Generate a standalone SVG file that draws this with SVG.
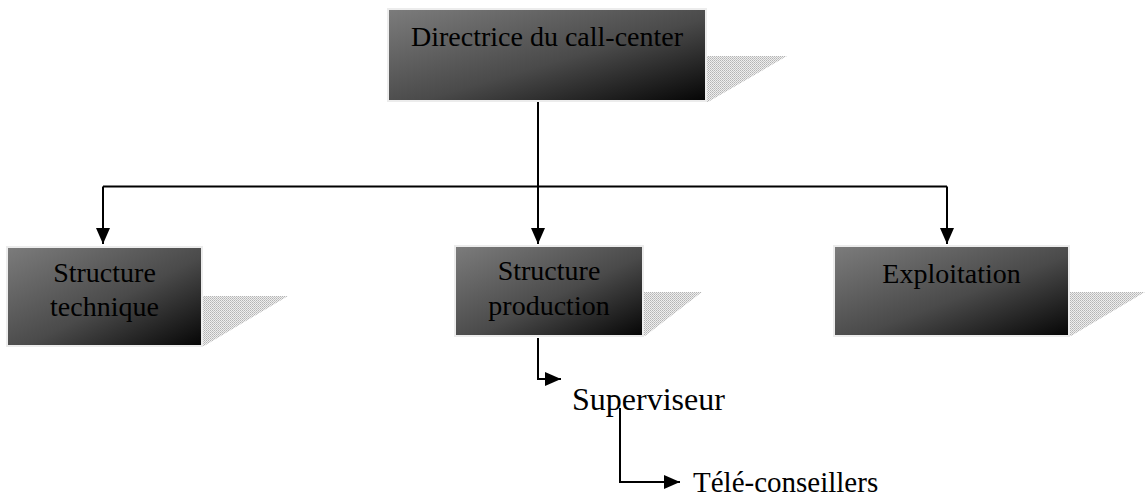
<svg xmlns="http://www.w3.org/2000/svg" width="1146" height="497" viewBox="0 0 1146 497">
  <style>
    .box { fill: url(#boxFill); stroke: #ececec; stroke-width: 2; }
    .shadow { fill: url(#dots); }
    .label { font-family: "Liberation Serif", "Times New Roman", serif; font-size: 28px; fill: #000; text-anchor: middle; }
    .plain { font-family: "Liberation Serif", "Times New Roman", serif; fill: #000; }
    .wire { fill: none; stroke: #000; stroke-width: 2; }
  </style>
  <defs>
    <linearGradient id="boxFill" x1="0" y1="0" x2="1" y2="1">
      <stop offset="0" stop-color="#7c7c7c"/>
      <stop offset="0.55" stop-color="#4a4a4a"/>
      <stop offset="1" stop-color="#050505"/>
    </linearGradient>
    <pattern id="dots" width="2" height="2" patternUnits="userSpaceOnUse">
      <rect width="2" height="2" fill="#eeeeee"/>
      <rect width="1" height="1" fill="#b4b4b4"/>
      <rect x="1" y="1" width="1" height="1" fill="#c4c4c4"/>
    </pattern>
    <marker id="arrow" viewBox="0 0 16 14" refX="16" refY="7" markerWidth="16" markerHeight="14" markerUnits="userSpaceOnUse" orient="auto">
      <path d="M0,0 L16,7 L0,14 Z" fill="#000"/>
    </marker>
  </defs>

  <!-- connectors -->
  <g id="connectors">
    <line class="wire" x1="538" y1="101" x2="538" y2="244" marker-end="url(#arrow)"/>
    <polyline class="wire" points="103,186.5 947,186.5"/>
    <line class="wire" x1="103" y1="186.5" x2="103" y2="244" marker-end="url(#arrow)"/>
    <line class="wire" x1="947" y1="186.5" x2="947" y2="244" marker-end="url(#arrow)"/>
    <polyline class="wire" points="538,338 538,379 561,379" marker-end="url(#arrow)"/>
    <polyline class="wire" points="620,408 620,482 680,482" marker-end="url(#arrow)"/>
  </g>

  <!-- top node -->
  <g id="node-directrice">
    <polygon class="shadow" points="706,56 787,56 708,102 706,102"/>
    <rect class="box" x="388" y="9" width="318" height="92"/>
    <text class="label" x="547" y="46">Directrice du call-center</text>
  </g>

  <g id="node-technique">
    <polygon class="shadow" points="202,296 288,296 204,346 202,346"/>
    <rect class="box" x="7" y="247" width="195" height="99"/>
    <text class="label" x="104.5" y="282">Structure</text>
    <text class="label" x="104.5" y="316">technique</text>
  </g>

  <g id="node-production">
    <polygon class="shadow" points="643,292 702,292 645,336 643,336"/>
    <rect class="box" x="455" y="246" width="188" height="90"/>
    <text class="label" x="549" y="280">Structure</text>
    <text class="label" x="549" y="315">production</text>
  </g>

  <g id="node-exploitation">
    <polygon class="shadow" points="1069,292 1145,292 1071,336 1069,336"/>
    <rect class="box" x="834" y="246" width="235" height="90"/>
    <text class="label" x="951.5" y="283">Exploitation</text>
  </g>

  <g id="node-superviseur">
    <text class="plain" x="572" y="410" font-size="32">Superviseur</text>
  </g>

  <g id="node-teleconseillers">
    <text class="plain" x="693" y="492" font-size="29">Télé-conseillers</text>
  </g>
</svg>
